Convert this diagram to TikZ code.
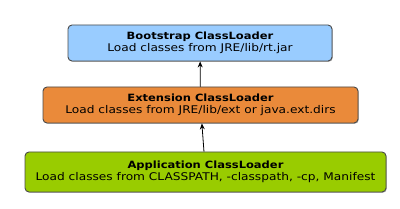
\documentclass[tikz,border=0pt]{standalone}
\usepackage{fontspec}
\setmainfont{DejaVu Sans}[FakeStretch=1.15]
\usetikzlibrary{positioning,arrows.meta,shadows}
\definecolor{bootblue}{HTML}{99CCFF}
\definecolor{extorange}{HTML}{EA8A3A}
\definecolor{appgreen}{HTML}{99CC00}
\definecolor{edgegray}{HTML}{4A4A4A}
\newcommand{\loadertext}[2]{{\fontsize{10}{14}\selectfont\textbf{#1}}\\{\fontsize{10.6}{14}\selectfont #2}}

\begin{document}
\begin{tikzpicture}[x=1pt, y=1pt,
    loader/.style={rectangle, rounded corners=4pt, draw=edgegray, line width=0.9pt,
        align=center, inner sep=0pt,
        drop shadow={shadow xshift=0.8pt, shadow yshift=-0.8pt, opacity=0.6}},
    up/.style={-{Stealth[length=6pt, width=5pt]}, line width=0.8pt}]
    % Rahmen
    \useasboundingbox (0,0) rectangle (400,209);

    % Lader

    \node[loader, fill=bootblue, minimum width=264pt, minimum height=36pt] (boot) at (200,166)
        {\loadertext{Bootstrap ClassLoader}{Load classes from JRE/lib/rt.jar}};
    \node[loader, fill=extorange, minimum width=315pt, minimum height=36pt] (ext) at (200.5,104)
        {\loadertext{Extension ClassLoader}{Load classes from JRE/lib/ext or java.ext.dirs}};
    \node[loader, fill=appgreen, minimum width=361pt, minimum height=40pt] (app) at (205.5,37)
        {\loadertext{Application ClassLoader}{Load classes from CLASSPATH, -classpath, -cp, Manifest}};

    % Pfeile

    \draw[up] (app) -- (ext);
    \draw[up] (ext) -- (boot);

\end{tikzpicture}
\end{document}
